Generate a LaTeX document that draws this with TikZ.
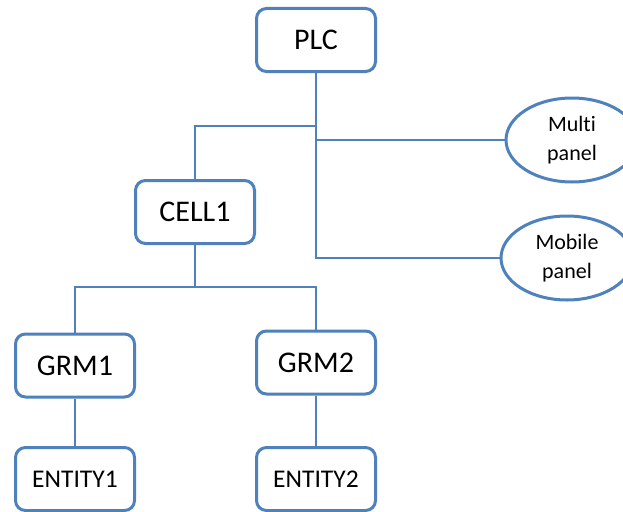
\documentclass[tikz,border=0pt]{standalone}
\usepackage{fontspec}
\setmainfont[Ligatures=NoCommon]{Carlito}
\usetikzlibrary{shapes.geometric}
\definecolor{boxblue}{HTML}{4F81BD}
\begin{document}
\begin{tikzpicture}[x=1pt,y=-1pt,
  box/.style={draw=boxblue,line width=3pt,rounded corners=10pt,fill=white,
    minimum width=119pt,minimum height=63pt,inner sep=0pt,font=\fontsize{30}{34}\selectfont},
  smallbox/.style={box,font=\fontsize{25.5}{29}\selectfont},
  oval/.style={draw=boxblue,line width=3pt,ellipse,fill=white,
    minimum width=132pt,minimum height=84pt,inner sep=0pt,align=center,
    font=\fontsize{22}{29}\selectfont},
  conn/.style={draw=boxblue,line width=1.5pt}]
\useasboundingbox (0,0) rectangle (623,511);
\clip (0,0) rectangle (623,511);

% junction points of the tree
\coordinate (j1) at (316,126);
\coordinate (j2) at (195,287);

% boxes and panels
\node[box] (plc) at (316,40) {PLC};
\node[box] (cell) at (195,212) {CELL1};
\node[box] (grm1) at (75,365.5) {GRM1};
\node[box] (grm2) at (316,362.5) {GRM2};
\node[smallbox] (ent1) at (75,479) {ENTITY1};
\node[smallbox] (ent2) at (316,479) {ENTITY2};
\node[oval] (multi) at (572,140) {Multi\\panel};
\node[oval] (mobile) at (567,258) {Mobile\\panel};

% connectors
\draw[conn] (plc.south) -- (plc.south |- mobile.west) -- (mobile.west);
\draw[conn] (j1) -| (cell.north);
\draw[conn] (plc.south |- multi.west) -- (multi.west);
\draw[conn] (cell.south) -- (j2);
\draw[conn] (grm1.north) |- (j2) -| (grm2.north);
\draw[conn] (grm1.south) -- (ent1.north);
\draw[conn] (grm2.south) -- (ent2.north);
\end{tikzpicture}
\end{document}
